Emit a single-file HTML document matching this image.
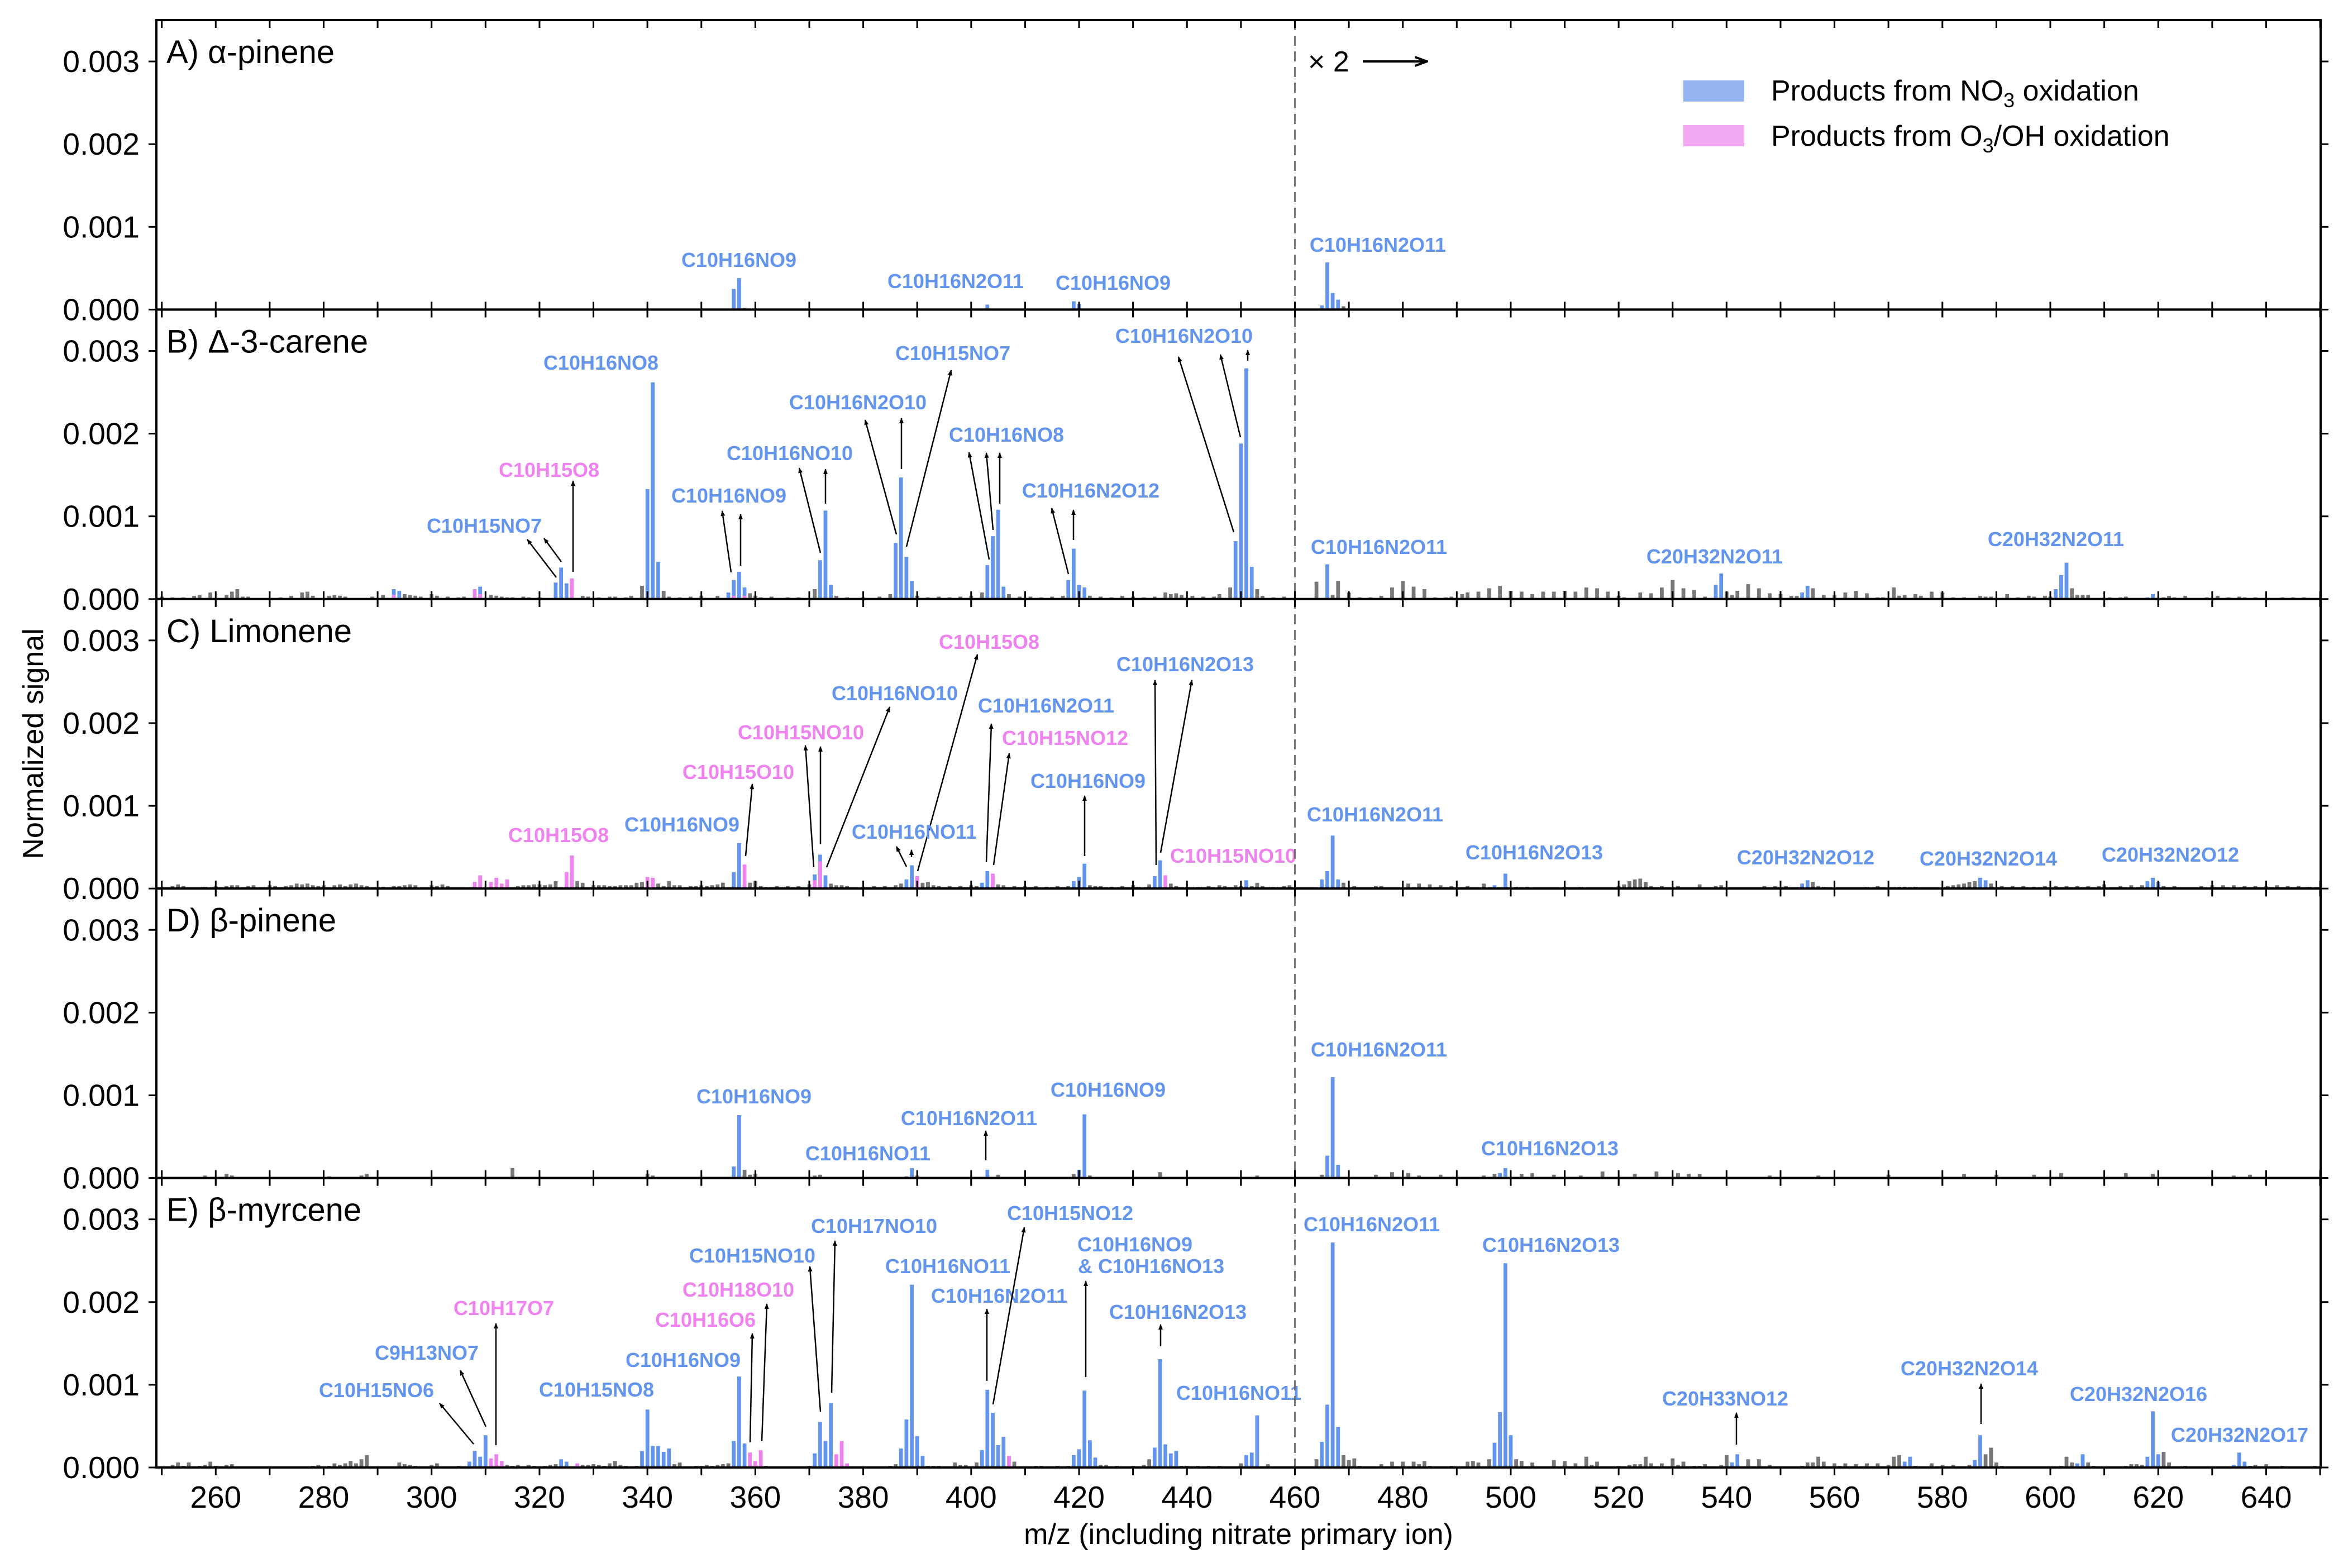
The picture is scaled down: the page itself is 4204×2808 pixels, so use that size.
<!DOCTYPE html>
<html><head><meta charset="utf-8"><style>
html,body{margin:0;padding:0;background:#fff;}
svg{display:block;font-family:"Liberation Sans",Arial,sans-serif;}
</style></head><body>
<svg id="chart" width="4204" height="2808" viewBox="0 0 4204 2808" xmlns="http://www.w3.org/2000/svg">
<defs><marker id="ah" markerWidth="10" markerHeight="10" refX="9" refY="5" orient="auto" markerUnits="userSpaceOnUse"><path d="M0,1 L10,5 L0,9 Z" fill="#000"/></marker>
<marker id="ah2" markerWidth="24" markerHeight="20" refX="22" refY="10" orient="auto" markerUnits="userSpaceOnUse"><path d="M0,2 L22,10 L0,18" fill="none" stroke="#000" stroke-width="4"/></marker></defs>
<g id="bars"></g><g id="ann"></g><g id="axes"></g>
</svg>
<script>
// ---- data: [m/z, normalized signal (as plotted; right of 460 shown ×2)] ----
const xTicks=[250,260,270,280,290,300,310,320,330,340,350,360,370,380,390,400,410,420,430,440,450,460,470,480,490,500,510,520,530,540,550,560,570,580,590,600,610,620,630,640,650];
const xTickLabels=[260,280,300,320,340,360,380,400,420,440,460,480,500,520,540,560,580,600,620,640];
const yTicks=[0,0.001,0.002,0.003];
const yTickLabels=["0.000","0.001","0.002","0.003"];
const panelNames=["A) α-pinene","B) Δ-3-carene","C) Limonene","D) β-pinene","E) β-myrcene"];

const aBlue=[[356,0.00025],[357,0.00038],[403,0.00006],[419,0.0001],[420,0.00007],[465,0.00005],[466,0.00057],[467,0.0002],[468,0.00012]];
const aPink=[];
const aGray=[[358,0.00002],[469,0.00004]];

const bBlue=[[293,0.00012],[294,0.0001],[309,0.00015],[323,0.0002],[324,0.00038],[325,0.00019],[340,0.00133],[341,0.00262],[342,0.00045],[355,0.00008],[356,0.00023],[357,0.00033],[358,0.00014],[372,0.00047],[373,0.00107],[374,0.00017],[386,0.00068],[387,0.00147],[388,0.00051],[389,0.00022],[403,0.00041],[404,0.00076],[405,0.00108],[406,0.00015],[418,0.00023],[419,0.00061],[420,0.00017],[421,0.00014],[449,0.0007],[450,0.00188],[451,0.00279],[452,0.00039],[466,0.00042],[538,0.00017],[539,0.00031],[554,0.00008],[555,0.00016],[601,0.00012],[602,0.00029],[603,0.00044],[618,0.00002],[619,0.00006]];
const bPink=[[293,0.00005],[308,0.00012],[309,0.00006],[326,0.00025],[356,0.00004],[358,0.00004]];
const bGray=[[250,0.00003],[252,0.00002],[254,0.00002],[256,0.00004],[257,0.00005],[259,0.00008],[262,0.00005],[263,0.00009],[264,0.00012],[265,0.00003],[266,0.00003],[272,0.00002],[274,0.00004],[276,0.00008],[277,0.00009],[278,0.00004],[281,0.00004],[282,0.00005],[283,0.00004],[284,0.00003],[289,0.00003],[291,0.00005],[295,0.00006],[296,0.00005],[297,0.00004],[298,0.00003],[300,0.00006],[301,0.00004],[303,0.00003],[305,0.00002],[306,0.00003],[311,0.00005],[312,0.00004],[313,0.00003],[314,0.00002],[315,0.00002],[317,0.00003],[318,0.00002],[320,0.00002],[328,0.00004],[329,0.00003],[331,0.00002],[333,0.00003],[334,0.00003],[336,0.00002],[337,0.00004],[339,0.00016],[343,0.0001],[344,0.00003],[346,0.00002],[348,0.00003],[350,0.00004],[353,0.00004],[359,0.00007],[360,0.00004],[361,0.00002],[363,0.00003],[366,0.00002],[368,0.00002],[371,0.00012],[375,0.00004],[377,0.00002],[380,0.00002],[383,0.00003],[385,0.00006],[390,0.00004],[392,0.00002],[394,0.00003],[396,0.00002],[398,0.00003],[400,0.00004],[402,0.00008],[407,0.00006],[409,0.00003],[411,0.00003],[413,0.00002],[415,0.00003],[417,0.00004],[422,0.00004],[424,0.00003],[426,0.00002],[428,0.00004],[430,0.00003],[432,0.00002],[434,0.00003],[436,0.00008],[437,0.00006],[438,0.00007],[439,0.00005],[441,0.00004],[443,0.00003],[445,0.00003],[446,0.00006],[448,0.00014],[453,0.00012],[454,0.00004],[456,0.00002],[458,0.00003],
[464,0.00021],[467,0.00005],[468,0.00022],[470,0.00008],[472,0.00002],[474,0.00002],[476,0.00004],[478,0.00014],[480,0.00022],[482,0.00015],[484,0.00012],[486,0.00002],[488,0.00002],[489,0.00003],[491,0.00006],[492,0.00008],[494,0.00009],[496,0.00013],[498,0.00016],[500,0.0001],[502,0.00009],[504,0.00006],[506,0.00009],[508,0.00009],[510,0.0001],[512,0.00009],[514,0.00014],[516,0.00013],[518,0.00009],[520,0.00004],[521,0.00002],[524,0.00008],[526,0.00007],[528,0.00014],[530,0.00023],[532,0.00013],[534,0.00011],[536,0.00003],[540,0.00009],[541,0.00005],[542,0.0001],[544,0.00018],[546,0.00013],[548,0.00007],[550,0.00006],[552,0.00004],[553,0.00004],[556,0.00013],[558,0.00005],[560,0.00005],[562,0.00008],[564,0.0001],[566,0.00007],[568,0.00002],[569,0.00002],[571,0.00014],[572,0.00004],[573,0.00005],[575,0.00006],[576,0.00004],[578,0.00009],[580,0.00008],[582,0.00002],[584,0.00002],[587,0.00004],[588,0.00003],[589,0.00003],[592,0.00006],[594,0.00002],[596,0.00004],[597,0.00003],[599,0.00004],[600,0.00003],[604,0.00013],[605,0.00005],[606,0.00005],[607,0.00005],[611,0.00002],[613,0.00002],[614,0.00003],[621,0.00002],[622,0.00004],[623,0.00002],[625,0.00004],[629,0.00002],[631,0.00004],[633,0.00002],[635,0.00003],[636,0.00002],[638,0.00002],[643,0.00002],[645,0.00002],[647,0.00002]];

const cBlue=[[356,0.0002],[357,0.00055],[371,0.00017],[372,0.00041],[373,0.00016],[388,0.00011],[389,0.00028],[402,0.00007],[403,0.00021],[419,0.00009],[420,0.00014],[421,0.0003],[434,0.00015],[435,0.00034],[451,0.0001],[465,0.00011],[466,0.00021],[467,0.00064],[468,0.00011],[497,0.00004],[499,0.00018],[554,0.00006],[555,0.0001],[587,0.00013],[588,0.0001],[618,0.00009],[619,0.00013],[620,0.00008]];
const cPink=[[308,0.00008],[309,0.00016],[311,0.00008],[312,0.00013],[313,0.00006],[314,0.00011],[325,0.0002],[326,0.0004],[340,0.00014],[341,0.00013],[358,0.00029],[371,0.0001],[372,0.00033],[390,0.00015],[404,0.00018],[436,0.00016]];
const cGray=[[250,0.00002],[252,0.00003],[253,0.00005],[254,0.00003],[258,0.00002],[260,0.00003],[262,0.00003],[263,0.00004],[264,0.00004],[266,0.00003],[267,0.00004],[270,0.00004],[271,0.00003],[273,0.00003],[274,0.00004],[275,0.00006],[276,0.00005],[277,0.00006],[278,0.00004],[279,0.00003],[280,0.00004],[282,0.00004],[283,0.00005],[284,0.00003],[285,0.00005],[286,0.00006],[287,0.00004],[288,0.00003],[291,0.00002],[293,0.00003],[294,0.00003],[295,0.00004],[296,0.00005],[297,0.00004],[300,0.00004],[301,0.00003],[302,0.00005],[303,0.00003],[316,0.00003],[317,0.00004],[318,0.00004],[319,0.00005],[320,0.00005],[321,0.00004],[322,0.00005],[323,0.00009],[327,0.00009],[328,0.00007],[330,0.00004],[331,0.00004],[332,0.00004],[333,0.00003],[334,0.00003],[335,0.00004],[336,0.00004],[337,0.00004],[338,0.00007],[339,0.00008],[342,0.00006],[343,0.00003],[344,0.00009],[345,0.00004],[346,0.00004],[348,0.00003],[349,0.00003],[350,0.00004],[351,0.00003],[352,0.00004],[353,0.00005],[354,0.00007],[359,0.00007],[360,0.00009],[361,0.00003],[362,0.00002],[364,0.00003],[366,0.00003],[368,0.00003],[370,0.00005],[374,0.00006],[375,0.00004],[376,0.00004],[377,0.00003],[380,0.00002],[382,0.00003],[384,0.00003],[386,0.00004],[387,0.00006],[391,0.00007],[392,0.00008],[393,0.00004],[394,0.00003],[396,0.00003],[398,0.00003],[400,0.00004],[401,0.00003],[405,0.00005],[406,0.00004],[408,0.00003],[410,0.00003],[412,0.00003],[414,0.00002],[416,0.00003],[418,0.00003],[422,0.00004],[423,0.00003],[424,0.00003],[426,0.00002],[428,0.00003],[430,0.00004],[431,0.00002],[433,0.00005],[437,0.00006],[438,0.00003],[440,0.00002],[442,0.00002],[444,0.00003],[446,0.00004],[447,0.00003],[449,0.00004],[450,0.00003],[452,0.00003],[453,0.00007],[454,0.00003],[456,0.00002],[458,0.00003],[459,0.00004],
[469,0.00007],[471,0.00003],[475,0.00003],[476,0.00003],[481,0.00006],[483,0.00006],[485,0.00005],[487,0.00004],[489,0.00003],[492,0.00003],[495,0.00006],[501,0.00002],[503,0.00002],[510,0.00002],[513,0.00002],[520,0.00003],[521,0.00005],[522,0.00009],[523,0.00011],[524,0.00012],[525,0.00008],[526,0.00003],[528,0.00003],[531,0.00003],[535,0.00005],[538,0.00003],[539,0.00004],[547,0.00003],[549,0.00003],[551,0.00003],[556,0.00008],[557,0.00003],[558,0.00002],[566,0.00002],[568,0.00003],[572,0.00002],[573,0.00002],[575,0.00002],[581,0.00003],[582,0.00004],[583,0.00005],[584,0.00006],[585,0.00008],[586,0.00009],[589,0.00006],[591,0.00003],[593,0.00003],[595,0.00003],[597,0.00002],[599,0.00003],[601,0.00003],[603,0.00003],[605,0.00003],[607,0.00003],[609,0.00003],[610,0.00005],[613,0.00003],[615,0.00004],[617,0.00004],[621,0.00003],[623,0.00003],[628,0.00003],[630,0.00004],[632,0.00004],[634,0.00004],[636,0.00003],[638,0.00003],[640,0.00003],[642,0.00004],[644,0.00003],[646,0.00003],[648,0.00002]];

const dBlue=[[356,0.00014],[357,0.00076],[389,0.00012],[403,0.0001],[420,0.0001],[421,0.00077],[466,0.00027],[467,0.00122],[468,0.00016],[498,0.00006],[499,0.00012]];
const dPink=[];
const dGray=[[258,0.00003],[262,0.00005],[263,0.00003],[281,0.00002],[287,0.00003],[288,0.00005],[315,0.00012],[340,0.00005],[341,0.00003],[358,0.0001],[359,0.00004],[360,0.00005],[371,0.00003],[372,0.00004],[388,0.00002],[390,0.00003],[405,0.00004],[419,0.00005],[422,0.00003],[435,0.00007],[453,0.00003],[465,0.00004],[475,0.00004],[478,0.00007],[481,0.00006],[483,0.00003],[487,0.00004],[495,0.00003],[497,0.00005],[502,0.00005],[504,0.00006],[508,0.00004],[513,0.00003],[517,0.00008],[523,0.00005],[527,0.00008],[531,0.00006],[533,0.00005],[535,0.00005],[548,0.00003],[557,0.00003],[570,0.00004],[584,0.00005],[590,0.00004],[597,0.00004],[602,0.00006],[614,0.00006],[619,0.00005],[634,0.00003],[637,0.00004]];

const eBlue=[[307,0.00007],[308,0.0002],[309,0.00013],[310,0.00039],[324,0.0001],[325,0.00007],[339,0.0002],[340,0.0007],[341,0.00026],[342,0.00026],[343,0.00019],[344,0.00023],[356,0.00032],[357,0.0011],[358,0.00029],[371,0.00017],[372,0.00055],[373,0.00032],[374,0.00078],[387,0.00023],[388,0.00058],[389,0.00221],[390,0.00038],[391,0.00014],[402,0.00021],[403,0.00094],[404,0.00066],[405,0.00027],[406,0.00037],[419,0.00015],[420,0.00022],[421,0.00093],[422,0.00033],[423,0.00012],[434,0.00024],[435,0.00131],[436,0.00028],[437,0.00017],[438,0.0002],[451,0.00015],[452,0.00018],[453,0.00063],[465,0.00031],[466,0.00076],[467,0.00272],[468,0.00049],[497,0.0003],[498,0.00067],[499,0.00247],[500,0.00039],[541,0.00006],[542,0.00016],[573,0.00007],[574,0.00013],[586,0.00009],[587,0.00039],[605,0.00005],[606,0.00016],[618,0.00013],[619,0.00068],[620,0.00016],[634,0.00003],[635,0.00018],[636,0.00007]];
const ePink=[[311,0.00011],[312,0.00016],[313,0.00008],[327,0.00005],[359,0.00018],[360,0.00008],[361,0.00021],[375,0.00016],[376,0.00032],[377,0.00005],[407,0.00014]];
const eGray=[[252,0.00003],[253,0.00006],[254,0.00002],[255,0.00006],[257,0.00002],[258,0.00003],[259,0.00007],[260,0.00002],[262,0.00003],[263,0.00004],[266,0.00001],[269,0.00001],[271,0.00001],[278,0.00002],[279,0.00003],[281,0.00002],[282,0.00005],[283,0.00003],[284,0.00005],[285,0.00008],[286,0.00005],[287,0.0001],[288,0.00015],[294,0.00006],[295,0.00004],[296,0.00003],[297,0.00002],[300,0.00003],[301,0.00005],[305,0.00002],[314,0.00003],[315,0.00002],[316,0.00003],[318,0.00003],[319,0.00002],[321,0.00002],[322,0.00003],[323,0.00004],[328,0.00003],[329,0.00003],[330,0.00004],[331,0.00003],[332,0.00002],[333,0.00005],[334,0.00008],[335,0.00003],[336,0.00002],[338,0.00002],[345,0.00004],[346,0.00006],[349,0.00002],[350,0.00002],[351,0.00003],[352,0.00002],[353,0.00003],[354,0.00004],[355,0.00005],[362,0.00002],[367,0.00001],[368,0.00001],[370,0.00002],[378,0.00001],[379,0.00001],[385,0.00002],[386,0.00004],[392,0.00002],[393,0.00002],[394,0.00002],[395,0.00001],[397,0.00006],[398,0.00003],[399,0.00003],[400,0.00001],[401,0.00006],[408,0.00007],[412,0.00002],[413,0.00002],[414,0.00001],[416,0.00002],[418,0.00002],[424,0.00003],[425,0.00003],[427,0.00002],[428,0.00001],[430,0.00002],[432,0.00003],[433,0.0001],[439,0.00002],[440,0.00002],[442,0.00002],[444,0.00002],[446,0.00002],[450,0.00005],[455,0.00004],
[464,0.0001],[469,0.00015],[470,0.00009],[471,0.00011],[472,0.00002],[474,0.00001],[476,0.00004],[478,0.00007],[480,0.00007],[482,0.00007],[483,0.00004],[484,0.00008],[485,0.00002],[489,0.00002],[492,0.00007],[493,0.00008],[494,0.00006],[496,0.0001],[501,0.0001],[502,0.00008],[504,0.00006],[508,0.00009],[510,0.00008],[512,0.00005],[514,0.00013],[515,0.00003],[516,0.00007],[520,0.00002],[522,0.00003],[523,0.00004],[524,0.00004],[525,0.00013],[526,0.00005],[528,0.00005],[530,0.00011],[531,0.00003],[532,0.00007],[534,0.00002],[535,0.00002],[536,0.00004],[539,0.00003],[540,0.00015],[544,0.0001],[546,0.0001],[548,0.00003],[554,0.00002],[555,0.00006],[556,0.00006],[557,0.00013],[558,0.00007],[560,0.00005],[561,0.00002],[562,0.00005],[564,0.00004],[566,0.00005],[568,0.00005],[570,0.00003],[571,0.00013],[572,0.00015],[575,0.00002],[578,0.00005],[580,0.00003],[582,0.00003],[585,0.00003],[588,0.00016],[589,0.00024],[590,0.00006],[591,0.00002],[602,0.00002],[603,0.00013],[604,0.00006],[607,0.00006],[608,0.00002],[614,0.00002],[615,0.00004],[616,0.00004],[617,0.00003],[621,0.00019],[622,0.00006],[625,0.00002],[629,0.00001],[631,0.00001],[637,0.00002],[638,0.00003],[640,0.00004],[643,0.00002],[647,0.00001],[649,0.00002]];

const grayData=[aGray,bGray,cGray,dGray,eGray];
const blueData=[aBlue,bBlue,cBlue,dBlue,eBlue];
const pinkData=[aPink,bPink,cPink,dPink,ePink];

// ---- layout ----
const NS="http://www.w3.org/2000/svg";
const X0=280, MZMIN=249, MZMAX=650.1, PXU=9.661, XR=X0+(MZMAX-MZMIN)*PXU;
const TOP0=36, PH=518.4, YMAX=0.0035;
function xs(mz){return X0+(mz-MZMIN)*PXU;}
function ptop(p){return TOP0+p*PH;}
function ys(v,p){return ptop(p)+PH-(v/YMAX)*PH;}
const C_BLUE="#6495ED", C_PINK="#EE82EE", C_GRAY="#777777";
function mk(tag,attrs,parent){const e=document.createElementNS(NS,tag);for(const k in attrs)e.setAttribute(k,attrs[k]);parent.appendChild(e);return e;}
const gB=document.getElementById('bars'), gA=document.getElementById('ann'), gX=document.getElementById('axes');
const BW=0.7*PXU;

function drawSeries(arr,p,color,nm){
  arr.forEach(d=>{
    const y=ys(d[1],p), b=ys(0,p);
    const r=mk('rect',{x:(xs(d[0])-BW/2).toFixed(1),y:y.toFixed(1),width:BW.toFixed(1),height:Math.max(0,b-y).toFixed(1),fill:color},gB);
    
    
  });
}
for(let p=0;p<5;p++){
  drawSeries(grayData[p],p,C_GRAY,'unassigned');
  drawSeries(blueData[p],p,C_BLUE,'no3-product');
  drawSeries(pinkData[p],p,C_PINK,'o3-oh-product');
}

const dl=mk('line',{x1:xs(460),x2:xs(460),y1:TOP0,y2:TOP0+5*PH,stroke:"#777",'stroke-width':3,'stroke-dasharray':"18,10"},gX);



for(let p=0;p<5;p++){
  const t=ptop(p), b=t+PH;
  const fr=mk('rect',{x:X0,y:t,width:XR-X0,height:PH,fill:'none',stroke:'#000','stroke-width':4},gX);
  
  
  xTicks.forEach(v=>{
    const x=xs(v);
    mk('line',{x1:x,x2:x,y1:t,y2:t+14,stroke:'#000','stroke-width':3},gX);
    mk('line',{x1:x,x2:x,y1:b-(p<4?14:0),y2:b+14,stroke:'#000','stroke-width':3},gX);
  });
  yTicks.forEach((v,i)=>{
    const y=ys(v,p);
    mk('line',{x1:X0-14,x2:X0,y1:y,y2:y,stroke:'#000','stroke-width':3},gX);
    mk('line',{x1:XR,x2:XR+14,y1:y,y2:y,stroke:'#000','stroke-width':3},gX);
    const tl=mk('text',{x:250,y:y+19,'text-anchor':'end','font-size':55},gX);
    tl.textContent=yTickLabels[i];
    
    
  });
  const pl=mk('text',{x:298,y:t+77,'font-size':58},gX);
  pl.textContent=panelNames[p];
  
  
}
xTickLabels.forEach(v=>{
  const t=mk('text',{x:xs(v),y:2700,'text-anchor':'middle','font-size':55},gX);
  t.textContent=v;
  
  
});
</script>
<script>
const ANN=[
["C10H16NO9",1323,465,"b",[]],["C10H16N2O11",1711,503,"b",[]],["C10H16NO9",1993,506,"b",[]],["C10H16N2O11",2467,438,"b",[]],
["C10H15NO7",867,941,"b",[[996,1034,944,966],[1005,1006,974,964]]],
["C10H15O8",983,841,"p",[[1026,1024,1026,861]]],
["C10H16NO8",1076,649,"b",[]],
["C10H16NO9",1305,887,"b",[[1309,1025,1293,915],[1326,1013,1326,921]]],
["C10H16NO10",1414,811,"b",[[1469,990,1431,838],[1478,902,1478,840]]],
["C10H16N2O10",1536,720,"b",[[1605,957,1549,752],[1614,840,1614,749]]],
["C10H15NO7",1706,632,"b",[[1623,979,1703,663]]],
["C10H16NO8",1802,778,"b",[[1771,1002,1735,810],[1778,949,1766,811],[1790,902,1790,811]]],
["C10H16N2O12",1953,878,"b",[[1913,1028,1883,910],[1922,967,1922,913]]],
["C10H16N2O10",2120,601,"b",[[2209,953,2110,639],[2221,783,2185,635],[2234,646,2234,627]]],
["C10H16N2O11",2469,979,"b",[]],["C20H32N2O11",3070,996,"b",[]],["C20H32N2O11",3681,965,"b",[]],
["C10H15O8",1000,1495,"p",[]],["C10H16NO9",1221,1476,"b",[]],
["C10H15O10",1322,1382,"p",[[1335,1533,1347,1404]]],
["C10H15NO10",1434,1311,"p",[[1457,1553,1442,1335],[1469,1512,1469,1337]]],
["C10H16NO10",1602,1241,"b",[[1480,1553,1593,1266]]],
["C10H15O8",1771,1149,"p",[[1643,1560,1750,1172]]],
["C10H16NO11",1637,1489,"b",[[1623,1552,1605,1516],[1632,1535,1632,1522]]],
["C10H16N2O11",1873,1263,"b",[[1766,1544,1775,1296]]],
["C10H15NO12",1907,1321,"p",[[1779,1549,1807,1349]]],
["C10H16NO9",1948,1398,"b",[[1942,1533,1942,1425]]],
["C10H16N2O13",2122,1189,"b",[[2070,1549,2068,1218],[2078,1527,2134,1218]]],
["C10H15NO10",2208,1532,"p",[]],
["C10H16N2O11",2462,1458,"b",[]],["C10H16N2O13",2747,1526,"b",[]],["C20H32N2O12",3233,1535,"b",[]],["C20H32N2O14",3560,1537,"b",[]],["C20H32N2O12",3886,1530,"b",[]],
["C10H16NO9",1350,1963,"b",[]],["C10H16NO11",1554,2065,"b",[]],
["C10H16N2O11",1735,2002,"b",[[1765,2078,1765,2025]]],
["C10H16NO9",1984,1951,"b",[]],["C10H16N2O11",2469,1879,"b",[]],["C10H16N2O13",2775,2056,"b",[]],
["C10H15NO6",674,2489,"b",[[848,2586,787,2513]]],
["C9H13NO7",764,2422,"b",[[870,2555,824,2454]]],
["C10H17O7",902,2342,"p",[[888,2588,888,2370]]],
["C10H15NO8",1068,2488,"b",[]],["C10H16NO9",1223,2435,"b",[]],
["C10H16O6",1263,2363,"p",[[1343,2583,1347,2388]]],
["C10H18O10",1322,2309,"p",[[1364,2581,1373,2335]]],
["C10H15NO10",1347,2248,"b",[[1469,2528,1450,2268]]],
["C10H17NO10",1565,2195,"b",[[1489,2494,1495,2222]]],
["C10H16NO11",1697,2267,"b",[]],
["C10H16N2O11",1789,2320,"b",[[1767,2473,1767,2344]]],
["C10H15NO12",1916,2172,"b",[[1778,2515,1834,2198]]],
["C10H16NO9",2032,2228,"b",[[1944,2466,1944,2294]]],["& C10H16NO13",2061,2267,"b",[]],
["C10H16N2O13",2109,2349,"b",[[2078,2411,2078,2372]]],
["C10H16NO11",2218,2494,"b",[]],
["C10H16N2O11",2456,2192,"b",[]],["C10H16N2O13",2777,2229,"b",[]],
["C20H33NO12",3089,2504,"b",[[3109,2587,3109,2530]]],
["C20H32N2O14",3526,2450,"b",[[3547,2550,3547,2478]]],
["C20H32N2O16",3829,2496,"b",[]],["C20H32N2O17",4010,2569,"b",[]]
];
ANN.forEach(a=>{
  const t=mk('text',{x:a[1],y:a[2]+13,'text-anchor':'middle','font-size':36,'font-weight':'bold',fill:a[3]==="b"?C_BLUE:C_PINK},gA);
  t.textContent=a[0];
  
  
  a[4].forEach(l=>{
    const ln=mk('line',{x1:l[0],y1:l[1],x2:l[2],y2:l[3],stroke:'#000','stroke-width':2.5,'marker-end':'url(#ah)'},gA);
    
    
  });
});
const x2=mk('text',{x:2342,y:128,'font-size':52},gA);
x2.textContent="× 2";


const x2a=mk('line',{x1:2440,y1:110,x2:2555,y2:110,stroke:'#000','stroke-width':4,'marker-end':'url(#ah2)'},gA);


const lg=mk('g',{},gA);


const p1=mk('rect',{x:3014,y:144,width:109,height:38,fill:'#94b4f0'},lg);


const t1=mk('text',{x:3171,y:180,'font-size':52},lg);
t1.innerHTML='Products from NO<tspan font-size="36" dy="12">3</tspan><tspan dy="-12"> oxidation</tspan>';


const p2=mk('rect',{x:3014,y:224,width:109,height:38,fill:'#f0a8f0'},lg);


const t2=mk('text',{x:3171,y:261,'font-size':52},lg);
t2.innerHTML='Products from O<tspan font-size="36" dy="12">3</tspan><tspan dy="-12">/OH oxidation</tspan>';


const xt=mk('text',{x:(X0+XR)/2,y:2765,'text-anchor':'middle','font-size':52},gA);
xt.textContent="m/z (including nitrate primary ion)";


const yt=mk('text',{x:0,y:0,'text-anchor':'middle','font-size':52,transform:'translate(77,1332) rotate(-90)'},gA);
yt.textContent="Normalized signal";


</script>
</body></html>
